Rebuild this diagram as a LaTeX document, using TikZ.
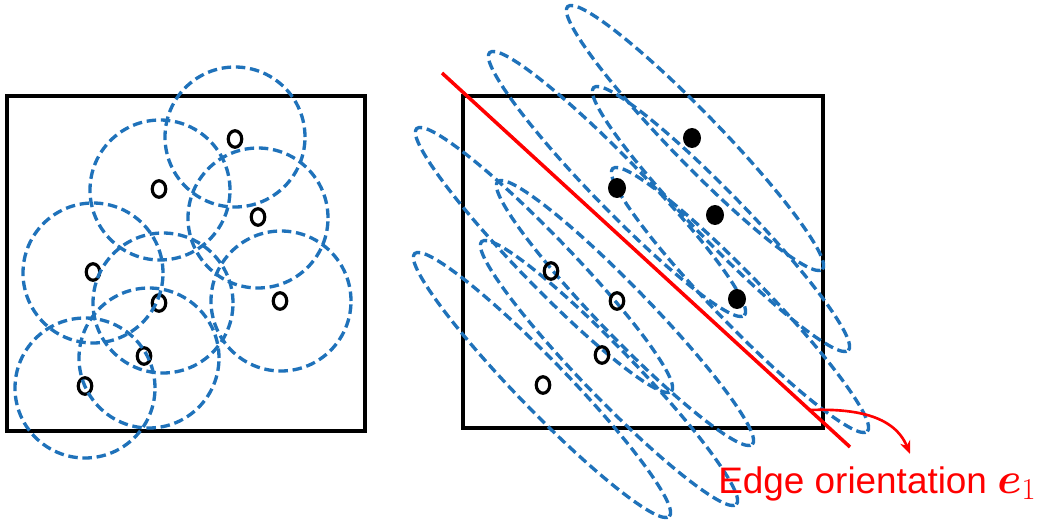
\documentclass[tikz,border=0pt]{standalone}
\usepackage{amsmath,amssymb,bm}
\usepackage{fontspec}
\setsansfont{Liberation Sans}
\usepackage{tikz}
\usetikzlibrary{arrows.meta,positioning,shapes.geometric}
\definecolor{Range}{HTML}{1F72BA}
\definecolor{Edge}{HTML}{FF0000}
\tikzset{
  frame/.style={draw=black,line width=2pt},
  opendot/.style={draw=black,ellipse,line width=1.8pt,minimum width=.27cm,minimum height=.33cm,inner sep=0pt},
  fulldot/.style={fill=black,ellipse,minimum width=.36cm,minimum height=.4cm,inner sep=0pt},
  reach/.style={draw=Range,line width=1.9pt,dash pattern=on 5.4pt off 2.7pt},
  cut/.style={draw=Edge,line width=2pt},
  pointer/.style={-{Stealth[length=2.6mm,width=2.1mm]},draw=Edge,line width=1.5pt}
}

\begin{document}
\begin{tikzpicture}[x=.02cm,y=.02cm]
  \useasboundingbox (0,0) rectangle (1052,525);
  % isotropic neighbourhoods
  \draw[frame] (7,94) rectangle (365,429);
  \node[opendot] (a1) at (235,386) {};
  \node[opendot] (a2) at (159,336) {};
  \node[opendot] (a3) at (258,308) {};
  \node[opendot] (a4) at (93,253) {};
  \node[opendot] (a5) at (159,222) {};
  \node[opendot] (a6) at (280,224) {};
  \node[opendot] (a7) at (144,169) {};
  \node[opendot] (a8) at (85,139) {};
  \draw[reach] (235,388) circle (70);
  \draw[reach] (160,335) circle (70);
  \draw[reach] (258,307) circle (70);
  \draw[reach] (93,252) circle (70);
  \draw[reach] (163,222) circle (70);
  \draw[reach] (281,224) circle (70);
  \draw[reach] (149,167) circle (70);
  \draw[reach] (85,137) circle (70);
  % anisotropic neighbourhoods along the edge
  \draw[frame] (463,97) rectangle (823,429);
  \draw[reach,rotate around={-45.9:(695,387)}] (695,387) ellipse (183 and 25);
  \draw[reach,rotate around={-45.9:(617,341)}] (617,341) ellipse (183 and 25);
  \draw[reach,rotate around={-45.9:(721,306)}] (721,306) ellipse (183 and 25);
  \draw[reach,rotate around={-45.9:(740,225)}] (740,225) ellipse (183 and 25);
  \draw[reach,rotate around={-45.9:(544,265)}] (544,265) ellipse (183 and 25);
  \draw[reach,rotate around={-45.9:(625,212)}] (625,212) ellipse (183 and 25);
  \draw[reach,rotate around={-45.9:(609,152)}] (609,152) ellipse (183 and 25);
  \draw[reach,rotate around={-45.9:(542,140)}] (542,140) ellipse (183 and 25);
  \node[fulldot] (b1) at (692,387) {};
  \node[fulldot] (b2) at (617,337) {};
  \node[fulldot] (b3) at (715,310) {};
  \node[fulldot] (b4) at (737,226) {};
  \node[opendot] (c1) at (551,254) {};
  \node[opendot] (c2) at (617,224) {};
  \node[opendot] (c3) at (602,170) {};
  \node[opendot] (c4) at (543,140) {};
  \coordinate (e0) at (442,452);
  \coordinate (e1) at (850,78);
  \draw[cut] (e0) -- (e1);
  \node[anchor=base west,inner sep=0pt,text=Edge,font=\sffamily\fontsize{21}{24}\selectfont] (lbl) at (718,32) {Edge orientation {\fontsize{27}{30}\selectfont$\bm{e}_1$}};
  \coordinate (hit) at (810,115);
  \coordinate (tip) at (910,71);
  \draw[pointer] (hit) to[out=2,in=112] (tip);
\end{tikzpicture}
\end{document}
